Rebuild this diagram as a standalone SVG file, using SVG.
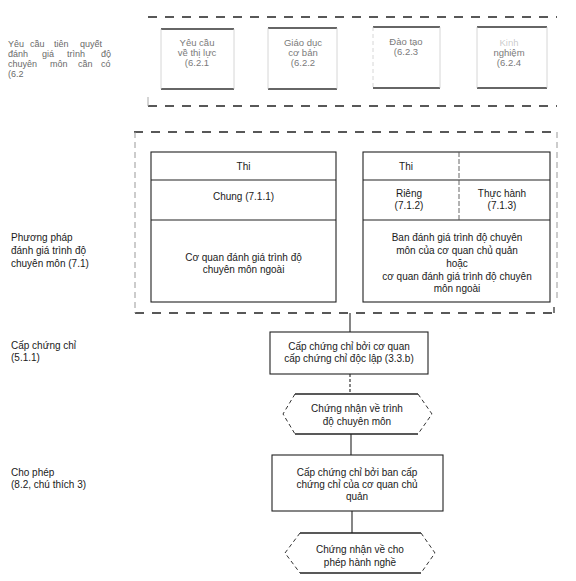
<svg xmlns="http://www.w3.org/2000/svg" width="576" height="581" viewBox="0 0 576 581">
<style>
  text { font-family: "Liberation Sans", Arial, sans-serif; font-size: 10px; fill: #1a1a1a; }
  .c { text-anchor: middle; }
  .faint { fill: #7a7a7a; font-size: 9.5px; }
  .lbl { fill: #6a6a6a; font-size: 9px; }
  .frame { fill: none; stroke: #222; stroke-width: 1.3; stroke-dasharray: 9 8; }
  .frameside { fill: none; stroke: #999; stroke-width: 1; stroke-dasharray: 6 4; }
  .box { fill: none; stroke: #222; stroke-width: 1.1; }
  .hedge { fill: none; stroke: #222; stroke-width: 1.4; }
  .hside { fill: none; stroke: #333; stroke-width: 1; stroke-dasharray: 4 3; }
  .tb { stroke: #333; stroke-width: 1.3; fill: none; }
  .ts { stroke: #ccc; stroke-width: 0.8; fill: none; }
  .conn { stroke: #222; stroke-width: 1.1; fill: none; }
</style>

<!-- Left column labels -->
<g id="label-prereq">
  <text class="lbl" y="47"><tspan x="8">Yêu</tspan><tspan x="30">cầu</tspan><tspan x="54">tiên</tspan><tspan x="80">quyết</tspan></text>
  <text class="lbl" y="57"><tspan x="8">đánh</tspan><tspan x="42">giá</tspan><tspan x="67">trình</tspan><tspan x="101">độ</tspan></text>
  <text class="lbl" y="67"><tspan x="8">chuyên</tspan><tspan x="50">môn</tspan><tspan x="78">cần</tspan><tspan x="101">có</tspan></text>
  <text class="lbl" x="8" y="77">(6.2</text>
</g>
<g id="label-method">
  <text x="11" y="241">Phương pháp</text>
  <text x="11" y="254">đánh giá trình độ</text>
  <text x="11" y="267">chuyên môn (7.1)</text>
</g>
<g id="label-cert">
  <text x="11" y="349">Cấp chứng chỉ</text>
  <text x="11" y="361">(5.1.1)</text>
</g>
<g id="label-permit">
  <text x="11" y="476">Cho phép</text>
  <text x="11" y="488">(8.2, chú thích 3)</text>
</g>

<!-- Frame 1: prerequisites -->
<g id="frame-prereq">
  <line class="frame" x1="148" y1="17" x2="557" y2="17"/>
  <line class="frame" x1="148" y1="106" x2="557" y2="106"/>
  <line x1="148" y1="97" x2="148" y2="106" stroke="#aaa" stroke-width="1"/>
</g>
<g id="box-6-2-1">
  <line class="tb" x1="161" y1="29" x2="234" y2="29"/>
  <line class="tb" x1="161" y1="89" x2="234" y2="89"/>
  <line class="ts" x1="161" y1="29" x2="161" y2="89"/>
  <line class="ts" x1="234" y1="29" x2="234" y2="89"/>
  <text class="faint c" x="197" y="46">Yêu cầu</text>
  <text class="faint c" x="197" y="56">về thị lực</text>
  <text class="faint c" x="197" y="66">(6.2.1</text>
</g>
<g id="box-6-2-2">
  <line class="tb" x1="268" y1="28" x2="337" y2="28"/>
  <line class="tb" x1="268" y1="89" x2="337" y2="89"/>
  <line class="ts" x1="268" y1="28" x2="268" y2="89"/>
  <line class="ts" x1="337" y1="28" x2="337" y2="89"/>
  <text class="faint c" x="303" y="46">Giáo dục</text>
  <text class="faint c" x="303" y="56">cơ bản</text>
  <text class="faint c" x="303" y="66">(6.2.2</text>
</g>
<g id="box-6-2-3">
  <line class="tb" x1="373" y1="27" x2="440" y2="27"/>
  <line class="tb" x1="373" y1="88" x2="440" y2="88"/>
  <line class="ts" x1="373" y1="27" x2="373" y2="88" stroke="#999" stroke-dasharray="4 3"/>
  <line class="ts" x1="440" y1="27" x2="440" y2="88"/>
  <text class="faint c" x="406" y="45">Đào tạo</text>
  <text class="faint c" x="406" y="55">(6.2.3</text>
</g>
<g id="box-6-2-4">
  <line class="tb" x1="477" y1="27" x2="547" y2="27"/>
  <line class="tb" x1="477" y1="88" x2="547" y2="88"/>
  <line class="ts" x1="477" y1="27" x2="477" y2="88"/>
  <line class="ts" x1="547" y1="27" x2="547" y2="88"/>
  <text class="faint c" x="509" y="46" fill-opacity="0.4">Kinh</text>
  <text class="faint c" x="509" y="56">nghiệm</text>
  <text class="faint c" x="509" y="66">(6.2.4</text>
</g>

<!-- Frame 2: assessment methods -->
<g id="frame-method">
  <line class="frame" x1="134" y1="132" x2="557" y2="132"/>
  <line class="frame" x1="135" y1="313" x2="554" y2="313"/>
  <line class="frameside" x1="135" y1="132" x2="135" y2="313"/>
  <line class="frameside" x1="557" y1="132" x2="557" y2="300"/>
  <line x1="554" y1="307" x2="554" y2="313" stroke="#222" stroke-width="1.2"/>
</g>
<g id="table-general">
  <rect class="box" x="151" y="152" width="185" height="150"/>
  <line class="box" x1="151" y1="180" x2="336" y2="180"/>
  <line class="box" x1="151" y1="220" x2="336" y2="220"/>
  <text class="c" x="243.5" y="170">Thi</text>
  <text class="c" x="243.5" y="200">Chung (7.1.1)</text>
  <text class="c" x="243.5" y="261">Cơ quan đánh giá trình độ</text>
  <text class="c" x="243.5" y="273">chuyên môn ngoài</text>
</g>
<g id="table-specific">
  <rect class="box" x="363" y="152" width="187" height="150"/>
  <line class="box" x1="363" y1="180" x2="550" y2="180"/>
  <line class="box" x1="363" y1="220" x2="550" y2="220"/>
  <line x1="459" y1="152" x2="459" y2="220" stroke="#555" stroke-width="0.9" stroke-dasharray="5 2"/>
  <text class="c" x="406" y="170">Thi</text>
  <text class="c" x="409" y="197">Riêng</text>
  <text class="c" x="409" y="209">(7.1.2)</text>
  <text class="c" x="502" y="197">Thực hành</text>
  <text class="c" x="502" y="209">(7.1.3)</text>
  <text class="c" x="457" y="241">Ban đánh giá trình độ chuyên</text>
  <text class="c" x="457" y="254">môn của cơ quan chủ quản</text>
  <text class="c" x="457" y="267">hoặc</text>
  <text class="c" x="457" y="280">cơ quan đánh giá trình độ chuyên</text>
  <text class="c" x="457" y="292">môn ngoài</text>
</g>

<!-- Connectors -->
<g id="connectors">
  <line class="conn" x1="350" y1="313" x2="350" y2="332"/>
  <line class="conn" x1="350" y1="374" x2="350" y2="394" stroke-dasharray="3 2"/>
  <line class="conn" x1="351" y1="434" x2="351" y2="455"/>
  <line class="conn" x1="352" y1="511" x2="352" y2="533"/>
</g>

<!-- Flow nodes -->
<g id="node-cert-body">
  <rect class="box" x="270" y="332" width="158" height="42"/>
  <text class="c" x="349" y="350">Cấp chứng chỉ bởi cơ quan</text>
  <text class="c" x="349" y="362">cấp chứng chỉ độc lập (3.3.b)</text>
</g>
<g id="node-competence-cert">
  <line class="hedge" x1="295" y1="394" x2="418" y2="394"/>
  <line class="hedge" x1="295" y1="434" x2="418" y2="434"/>
  <polyline class="hside" points="295,394 283,414 295,434"/>
  <polyline class="hside" points="418,394 432,414 418,434"/>
  <text class="c" x="357" y="412">Chứng nhận về trình</text>
  <text class="c" x="357" y="425">độ chuyên môn</text>
</g>
<g id="node-cert-board">
  <rect class="box" x="272" y="455" width="171" height="56"/>
  <text class="c" x="357" y="476">Cấp chứng chỉ bởi ban cấp</text>
  <text class="c" x="357" y="488">chứng chỉ của cơ quan  chủ</text>
  <text class="c" x="357" y="500">quản</text>
</g>
<g id="node-practice-cert">
  <line class="hedge" x1="300" y1="533" x2="421" y2="533"/>
  <line class="hedge" x1="300" y1="573" x2="421" y2="573"/>
  <polyline class="hside" points="300,533 285,553 300,573"/>
  <polyline class="hside" points="421,533 435,553 421,573"/>
  <text class="c" x="360" y="553">Chứng nhận về cho</text>
  <text class="c" x="360" y="566">phép hành nghề</text>
</g>
</svg>
